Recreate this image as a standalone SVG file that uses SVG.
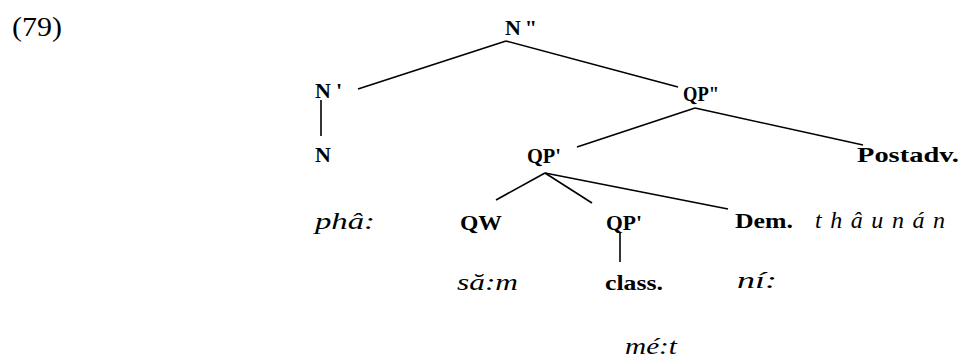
<svg xmlns="http://www.w3.org/2000/svg" width="961" height="358" viewBox="0 0 961 358">
<style>
.lbl{font-family:"Liberation Serif","Times New Roman",serif;font-weight:bold;font-size:22px;fill:#000}
.it{font-family:"Liberation Serif","Times New Roman",serif;font-style:italic;font-size:24px;fill:#000}
.num{font-family:"Liberation Serif","Times New Roman",serif;font-size:28px;fill:#000}
.edge{stroke:#000;stroke-width:1.6;fill:none}
</style>
<rect width="961" height="358" fill="#fff"/>
<text class="num" x="12" y="36" textLength="50" lengthAdjust="spacingAndGlyphs">(79)</text>
<g id="connectors">
<line class="edge" x1="506" y1="41" x2="358" y2="89"/>
<line class="edge" x1="506" y1="41" x2="678" y2="87"/>
<line class="edge" x1="321" y1="100" x2="321" y2="136"/>
<line class="edge" x1="695" y1="108" x2="577" y2="147"/>
<line class="edge" x1="695" y1="108" x2="863" y2="145"/>
<line class="edge" x1="545" y1="173" x2="496" y2="200"/>
<line class="edge" x1="545" y1="173" x2="592" y2="203"/>
<line class="edge" x1="545" y1="173" x2="728" y2="209"/>
<line class="edge" x1="620" y1="232" x2="620" y2="262"/>
</g>
<g id="n-Nbar2"><text class="lbl" x="505" y="35" textLength="32" lengthAdjust="spacing">N"</text></g>
<g id="n-Nbar1"><text class="lbl" x="315" y="98" textLength="27" lengthAdjust="spacing">N'</text></g>
<g id="n-N"><text class="lbl" x="315" y="162">N</text></g>
<g id="n-QPbar2"><text class="lbl" x="683" y="101" textLength="36" lengthAdjust="spacingAndGlyphs">QP"</text></g>
<g id="n-QPbar1"><text class="lbl" x="527" y="163" textLength="34" lengthAdjust="spacingAndGlyphs">QP'</text></g>
<g id="n-Postadv"><text class="lbl" x="857" y="162" textLength="102" lengthAdjust="spacingAndGlyphs">Postadv.</text></g>
<g id="n-pha"><text class="it" x="315" y="229" textLength="60" lengthAdjust="spacingAndGlyphs">phâ:</text></g>
<g id="n-QW"><text class="lbl" x="460" y="230" textLength="42" lengthAdjust="spacingAndGlyphs">QW</text></g>
<g id="n-QPbar1b"><text class="lbl" x="606" y="230" textLength="36" lengthAdjust="spacingAndGlyphs">QP'</text></g>
<g id="n-Dem"><text class="lbl" x="735" y="228" textLength="58" lengthAdjust="spacingAndGlyphs">Dem.</text></g>
<g id="n-thaunan"><text class="it" x="815" y="228" textLength="130" lengthAdjust="spacing">thâunán</text></g>
<g id="n-sam"><text class="it" x="457" y="290" textLength="61" lengthAdjust="spacingAndGlyphs">să:m</text></g>
<g id="n-class"><text class="lbl" x="605" y="290" textLength="58" lengthAdjust="spacingAndGlyphs">class.</text></g>
<g id="n-ni"><text class="it" x="737" y="288" textLength="40" lengthAdjust="spacingAndGlyphs">ní:</text></g>
<g id="n-met"><text class="it" x="625" y="354" textLength="52" lengthAdjust="spacingAndGlyphs">mé:t</text></g>
</svg>
